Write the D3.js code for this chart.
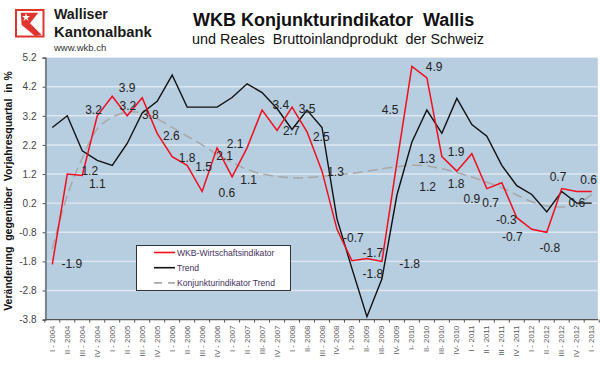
<!DOCTYPE html>
<html><head><meta charset="utf-8">
<script src="https://cdn.jsdelivr.net/npm/d3@7"></script>
<style>html,body{margin:0;padding:0;background:#fff}svg{display:block}text{font-family:"Liberation Sans",Arial,sans-serif}</style>
</head><body><svg id="c" width="600" height="370"></svg>
<script>
const categories=["I - 2004","II - 2004","III - 2004","IV - 2004","I - 2005","II - 2005","III - 2005","IV - 2005","I - 2006","II - 2006","III - 2006","IV - 2006","I - 2007","II - 2007","III- 2007","IV - 2007","I - 2008","II- 2008","III - 2008","IV- 2008","I- 2009","II- 2009","III- 2009","IV- 2009","I- 2010","II- 2010","III- 2010","IV- 2010","I - 2011","II - 2011","III - 2011","IV - 2011","I - 2012","II - 2012","III - 2012","IV - 2012","I - 2013"];
const wkbIndicator=[-1.9,1.2,1.15,3.2,3.87,3.2,3.82,2.6,1.8,1.5,0.6,2.1,1.1,2.1,3.4,2.7,3.5,2.65,1.3,-0.7,-1.78,-1.7,-1.8,1.6,4.9,4.5,1.8,1.3,1.9,0.7,0.9,-0.3,-0.7,-0.8,0.7,0.6,0.6];
const trend=[2.8,3.2,2.0,1.67,1.5,2.25,3.3,3.7,4.6,3.5,3.5,3.5,3.83,4.3,4.0,3.45,2.73,3.4,2.8,-0.34,-2.05,-3.7,-2.4,0.48,2.3,3.4,2.6,3.8,2.9,2.5,1.5,0.8,0.5,-0.1,0.6,0.2,0.2];
const konjunkturTrend=[-1.37,0.46,1.75,2.75,3.15,3.33,3.3,3.1,2.8,2.5,2.2,1.87,1.6,1.36,1.2,1.12,1.07,1.08,1.12,1.18,1.22,1.3,1.38,1.45,1.5,1.48,1.38,1.25,1.1,0.92,0.73,0.48,0.25,0.1,0.07,0.15,0.5];
const yTicks=[5.2,4.2,3.2,2.2,1.2,0.2,-0.8,-1.8,-2.8,-3.8];
const labelTexts=["-1.9","1.2","1.1","3.2","3.9","3.2","3.8","2.6","1.8","1.5","2.1","2.1","1.1","0.6","3.4","2.7","3.5","2.5","1.3","4.5","4.9","1.3","1.9","1.2","1.8","0.9","0.7","-0.3","-0.7","-0.8","0.7","0.6","0.6","-0.7","-1.7","-1.8","-1.8"];
const labelSlots=[1.3,2.5,3,2.75,5,5.05,6.55,7.95,9,10.1,12.2,11.5,13.1,11.65,15.25,15.95,17,17.95,18.9,22.55,25.48,25,26.95,25.05,26.95,28,29.25,30.3,30.7,33.2,33.75,35.8,35,20.1,21.4,21.4,23.85];
const labelLevels=[-1.9,1.32,0.88,3.42,4.15,3.55,3.22,2.52,1.76,1.45,2.24,1.84,1.0,0.54,3.57,2.68,3.44,2.47,1.26,3.4,4.9,1.73,1.95,0.76,0.87,0.35,0.2,-0.37,-0.97,-1.32,1.1,1.0,0.22,-1.0,-1.5,-2.23,-1.9];
const legendNames=["WKB-Wirtschaftsindikator","Trend","Konjunkturindikator Trend"];
const seriesColors=["#f00f1e","#111111","#a8a8a8"];

const svg=d3.select("#c");
const x=d3.scaleBand().domain(categories).range([44.8,599.2]);
const y=d3.scaleLinear().domain([-3.8,5.2]).range([319.6,57.6]);
const px=i=>x(categories[0])+x.step()*(i+0.5);

svg.append("rect").attr("x",x.range()[0]).attr("y",y(5.2)).attr("width",553).attr("height",y(-3.8)-y(5.2)).attr("fill","#b7cde0");
svg.append("g").selectAll("line").data(yTicks.slice(1,-1)).join("line")
 .attr("x1",45.5).attr("x2",598).attr("y1",d=>y(d)).attr("y2",d=>y(d)).attr("stroke","#dfe8f0").attr("stroke-width",1.4);

const yAxis=d3.axisLeft(y).tickValues(yTicks).tickFormat(d=>d.toFixed(1)).tickSize(3).tickPadding(6);
const gy=svg.append("g").attr("transform","translate(45.5,0)").call(yAxis);
gy.select(".domain").attr("stroke","#555").attr("stroke-width",1.2);
gy.selectAll("line").attr("stroke","#555");
gy.selectAll("text").attr("font-size",10).attr("fill","#444").attr("font-family",'"Liberation Sans"');

const xAxis=d3.axisBottom(x).tickSize(0).tickPadding(0);
const gx=svg.append("g").attr("transform",`translate(0,${y(-3.8)})`).call(xAxis);
gx.select(".domain").attr("stroke","#555").attr("stroke-width",1.4).attr("d",`M45,0H598`);
gx.selectAll("text").attr("font-size",7.8).attr("fill","#555").attr("font-family",'"Liberation Sans"')
 .attr("transform","rotate(-90)").attr("x",-6).attr("y",0).attr("dy","0.32em").attr("text-anchor","end");
svg.append("g").selectAll("line").data(d3.range(categories.length+1)).join("line")
 .attr("x1",d=>x.range()[0]+d*x.step()).attr("x2",d=>x.range()[0]+d*x.step())
 .attr("y1",y(-3.8)).attr("y2",y(-3.8)+3).attr("stroke","#555");

const line=d3.line().x((d,i)=>px(i)).y(d=>y(d));
svg.append("path").datum(konjunkturTrend).attr("d",line.curve(d3.curveCatmullRom)).attr("fill","none").attr("stroke",seriesColors[2]).attr("stroke-width",1.5).attr("stroke-dasharray","10 5");
line.curve(d3.curveLinear);
svg.append("path").datum(trend).attr("d",line).attr("fill","none").attr("stroke",seriesColors[1]).attr("stroke-width",1.4);
svg.append("path").datum(wkbIndicator).attr("d",line).attr("fill","none").attr("stroke",seriesColors[0]).attr("stroke-width",1.5);

svg.append("g").selectAll("text").data(labelTexts).join("text").text(d=>d)
 .attr("x",(d,i)=>px(labelSlots[i])).attr("y",(d,i)=>y(labelLevels[i])).attr("dy","0.35em")
 .attr("text-anchor","middle").attr("font-size",12).attr("fill","#222");

const leg=svg.append("g");
leg.append("rect").attr("x",136.5).attr("y",245.5).attr("width",154).attr("height",45).attr("fill","#fff").attr("stroke","#333");
legendNames.forEach((n,i)=>{
 const ly=252.5+i*15.2;
 leg.append("line").attr("x1",154).attr("x2",175).attr("y1",ly).attr("y2",ly).attr("stroke",seriesColors[i]).attr("stroke-width",1.6).attr("stroke-dasharray",i==2?"8 6":null);
 leg.append("text").text(n).attr("x",177).attr("y",ly).attr("dy","0.35em").attr("font-size",8.6).attr("fill","#44305c");
});

svg.append("text").text("Veränderung  gegenüber  Vorjahresquartal  in %").attr("transform","translate(12,191) rotate(-90)")
 .attr("text-anchor","middle").attr("font-size",10.5).attr("font-weight","bold").attr("fill","#111").style("white-space","pre");

svg.append("text").text("WKB Konjunkturindikator  Wallis").attr("x",193).attr("y",26).attr("font-size",18).attr("font-weight","bold").attr("fill","#111").style("white-space","pre");
svg.append("text").text("und Reales  Bruttoinlandprodukt  der Schweiz").attr("x",192).attr("y",44).attr("font-size",14.4).attr("fill","#111").style("white-space","pre");

// logo
const logo=svg.append("g");
logo.append("rect").attr("x",16).attr("y",10).attr("width",27.5).attr("height",26.5).attr("fill","#fff").attr("stroke","#e0352f").attr("stroke-width",2);
logo.append("path").attr("fill","#e0352f").attr("d","M20.7 12.7H38.3L30 23.3L41.7 35L35 36L21.7 25Z");
logo.append("path").attr("fill","#fff").attr("d","M26 13l1 3 3 0-2.5 2 1 3-2.5-2-2.5 2 1-3-2.5-2 3 0Z");
svg.append("text").text("Walliser").attr("x",54).attr("y",19).attr("font-size",14.2).attr("font-weight","bold").attr("fill","#1a1a1a");
svg.append("text").text("Kantonalbank").attr("x",54).attr("y",37).attr("font-size",14.8).attr("font-weight","bold").attr("fill","#1a1a1a");
svg.append("text").text("www.wkb.ch").attr("x",54).attr("y",51).attr("font-size",9.5).attr("fill","#333");
</script></body></html>
